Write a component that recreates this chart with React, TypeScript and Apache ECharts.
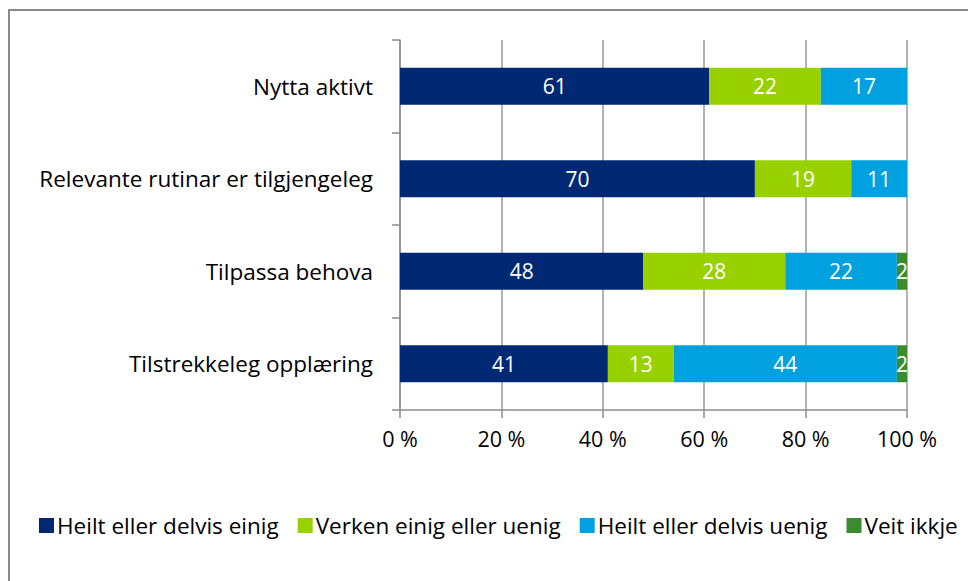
import React, { useEffect, useRef } from "react";
import * as echarts from "echarts";

const categories = [
  "Nytta aktivt",
  "Relevante rutinar er tilgjengeleg",
  "Tilpassa behova",
  "Tilstrekkeleg opplæring",
];
const seriesNames = [
  "Heilt eller delvis einig",
  "Verken einig eller uenig",
  "Heilt eller delvis uenig",
  "Veit ikkje",
];
const einig = [61, 70, 48, 41];
const verken = [22, 19, 28, 13];
const uenig = [17, 11, 22, 44];
const veitIkkje = [0, 0, 2, 2];
const colors = ["#002873", "#99D000", "#00A1DE", "#3A8C2E"];

const FONT = "'Open Sans', sans-serif";

export default function App() {
  const ref = useRef<HTMLDivElement>(null);
  useEffect(() => {
    document.body.style.margin = "0";
    const chart = echarts.init(ref.current!, undefined, { renderer: "svg" });
    const values = [einig, verken, uenig, veitIkkje];
    chart.setOption({
      animation: false,
      textStyle: { fontFamily: FONT },
      grid: { left: 400, right: 61, top: 40, bottom: 171, containLabel: false },
      legend: {
        left: 34,
        top: 509,
        width: 1500,
        itemWidth: 15,
        itemHeight: 15,
        itemGap: 19,
        icon: "rect",
        textStyle: { fontSize: 22.5, color: "#000", fontFamily: FONT, padding: [0, 0, 0, -2] },
        data: seriesNames,
      },
      graphic: [
        {
          type: "rect",
          shape: { x: 9, y: 10, width: 1200, height: 800 },
          style: { fill: "none", stroke: "#8a8a8a", lineWidth: 2 },
          silent: true,
          z: -1,
        },
      ],
      xAxis: {
        type: "value",
        min: 0,
        max: 100,
        interval: 20,
        axisLine: { show: true, lineStyle: { color: "#8c8c8c", width: 1.5 } },
        axisTick: { show: true, length: 8, lineStyle: { color: "#8c8c8c", width: 1.5 } },
        splitLine: { show: true, lineStyle: { color: "#9a9a9a", width: 1.5 } },
        axisLabel: {
          formatter: "{value} %",
          fontSize: 21.5,
          color: "#000",
          margin: 17,
          fontFamily: FONT,
        },
      },
      yAxis: {
        type: "category",
        inverse: true,
        data: categories,
        axisLine: { show: true, lineStyle: { color: "#8c8c8c", width: 1.5 } },
        axisTick: { show: true, length: 8, alignWithLabel: false, lineStyle: { color: "#8c8c8c", width: 1.5 } },
        axisLabel: { fontSize: 22.5, color: "#000", margin: 27, fontFamily: FONT },
      },
      series: seriesNames.map((name, i) => ({
        name,
        type: "bar",
        stack: "total",
        barWidth: 37,
        data: values[i],
        itemStyle: { color: colors[i] },
        label: {
          show: true,
          position: "inside",
          color: "#fff",
          fontSize: 21,
          fontFamily: FONT,
          formatter: (p: any) => (p.value ? String(p.value) : ""),
        },
      })),
    });
    return () => chart.dispose();
  }, []);
  return <div ref={ref} style={{ width: 968, height: 581 }} />;
}
